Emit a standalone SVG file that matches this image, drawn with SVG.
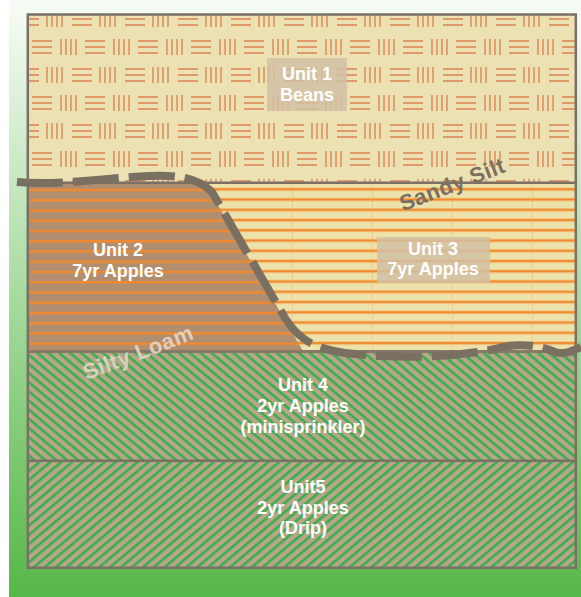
<svg xmlns="http://www.w3.org/2000/svg" width="581" height="597" viewBox="0 0 581 597">
  <defs>
    <linearGradient id="bg" x1="0" y1="0" x2="0" y2="1">
      <stop offset="0" stop-color="#f8fcf6"/>
      <stop offset="1" stop-color="#56b848"/>
    </linearGradient>
    <pattern id="basket" patternUnits="userSpaceOnUse" x="46" y="11" width="53" height="56">
      <rect width="53" height="56" fill="#ebe1b2"/>
      <g stroke="#e09a68" stroke-width="1.8">
        <path d="M1,0v16M6,0v16M11,0v16M16,0v16"/>
        <path d="M26,2h20M26,8h20M26,14h20"/>
        <path d="M15,28v16M20,28v16M25,28v16M30,28v16"/>
        <path d="M39,30h14M39,36h14M39,42h14M0,30h6M0,36h6M0,42h6"/>
      </g>
    </pattern>
    <pattern id="stripe2" patternUnits="userSpaceOnUse" x="0" y="188.75" width="80" height="10.25">
      <rect width="80" height="10.25" fill="#b18e70"/>
      <rect y="0" width="80" height="2.5" fill="#ef8a30"/>
    </pattern>
    <pattern id="stripe3" patternUnits="userSpaceOnUse" x="372" y="187.3" width="80" height="10.25">
      <rect width="80" height="10.25" fill="#ece3ac"/>
      <rect y="0" width="80" height="4" fill="#f3c784"/>
      <rect y="1" width="80" height="2" fill="#f08a2c"/>
      <rect x="0" width="1" height="10.25" fill="#e8a868" opacity="0.4"/>
    </pattern>
    <pattern id="hatch4" patternUnits="userSpaceOnUse" width="20" height="7" patternTransform="rotate(40)">
      <rect width="20" height="7" fill="#b8a68a"/>
      <rect width="20" height="2.6" fill="#3aae4c"/>
    </pattern>
    <pattern id="hatch5" patternUnits="userSpaceOnUse" width="20" height="7" patternTransform="rotate(-40)">
      <rect width="20" height="7" fill="#b8a68a"/>
      <rect width="20" height="2.6" fill="#3aae4c"/>
    </pattern>
    <style>
      .lbl { font-family: "Liberation Sans", Arial, sans-serif; font-weight: bold; font-size: 18px; fill: #ffffff; text-anchor: middle; }
      .box { fill: #d2bfa3; opacity: 0.85; }
      .soil { font-family: "Liberation Sans", Arial, sans-serif; font-weight: bold; font-size: 22px; letter-spacing: 0.5px; text-anchor: middle; }
      .div { stroke: #7a7066; stroke-width: 2.5; fill: none; }
    </style>
  </defs>

  <rect x="9" y="0" width="572" height="597" fill="url(#bg)"/>

  <g id="unit1">
    <rect x="28" y="15" width="548" height="168" fill="url(#basket)"/>
  </g>
  <g id="unit3">
    <rect x="28" y="183" width="548" height="168" fill="url(#stripe3)"/>
  </g>
  <g id="unit2">
    <path d="M28,183 H200 Q205,183 208,188 L303,351 H28 Z" fill="url(#stripe2)"/>
  </g>
  <g id="unit4">
    <rect x="28" y="351" width="548" height="110" fill="url(#hatch4)"/>
  </g>
  <g id="unit5">
    <rect x="28" y="461" width="548" height="107" fill="url(#hatch5)"/>
  </g>

  <g id="dividers">
    <line class="div" x1="28" y1="182.8" x2="576" y2="182.8"/>
    <line x1="28" y1="351.5" x2="576" y2="351.5" stroke="#887868" stroke-width="3"/>
    <line class="div" x1="28" y1="460.7" x2="576" y2="460.7"/>
    <rect class="div" x="27.8" y="14.5" width="548" height="553.3"/>
  </g>

  <g id="label-unit1">
    <rect class="box" x="267" y="58" width="80" height="53"/>
    <text class="lbl" x="307" y="80">Unit 1</text>
    <text class="lbl" x="307" y="101">Beans</text>
  </g>
  <g id="label-unit2">
    <text class="lbl" x="118" y="255.5">Unit 2</text>
    <text class="lbl" x="118" y="276.5">7yr Apples</text>
  </g>
  <g id="label-unit3">
    <rect class="box" x="377" y="237" width="113" height="46"/>
    <text class="lbl" x="433" y="254.5">Unit 3</text>
    <text class="lbl" x="433" y="275">7yr Apples</text>
  </g>
  <g id="label-unit4">
    <text class="lbl" x="303" y="390.5">Unit 4</text>
    <text class="lbl" x="303" y="411.5">2yr Apples</text>
    <text class="lbl" x="303" y="432.5">(minisprinkler)</text>
  </g>
  <g id="label-unit5">
    <text class="lbl" x="303" y="493">Unit5</text>
    <text class="lbl" x="303" y="514">2yr Apples</text>
    <text class="lbl" x="303" y="534">(Drip)</text>
  </g>

  <g id="connectors">
    <path d="M17,182 C60,186 100,178 150,176 C180,175 198,178 212,192 L285,318 C300,342 318,349 345,353 C400,359 450,358 495,349 C515,343 535,344 555,352 C565,355 572,351 581,347"
          fill="none" stroke="#7a7062" stroke-width="8" stroke-dasharray="46 10"/>
  </g>

  <g id="soil-labels">
    <text class="soil" fill="#7a7062" transform="translate(452,184) rotate(-21)" x="0" y="8">Sandy Silt</text>
    <text class="soil" fill="#e6dacc" opacity="0.85" transform="translate(138,352) rotate(-21)" x="0" y="8">Silty Loam</text>
  </g>
</svg>
